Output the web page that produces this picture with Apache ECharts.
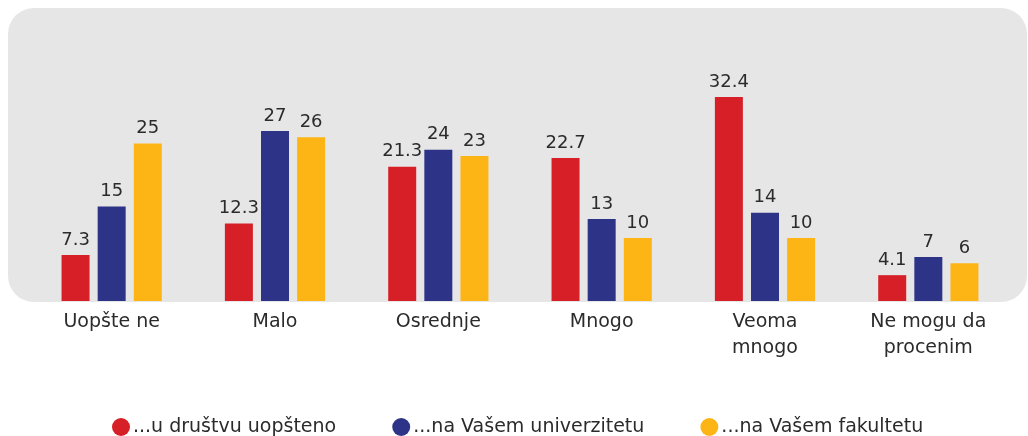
<!DOCTYPE html>
<html>
<head>
<meta charset="utf-8">
<script src="https://cdn.jsdelivr.net/npm/echarts@6/dist/echarts.min.js"></script>
<style>
html,body{margin:0;padding:0;background:#fff;}
#chart{width:1028px;height:436px;}
</style>
</head>
<body>
<div id="chart"></div>
<script>
var categories = ['Uopšte ne', 'Malo', 'Osrednje', 'Mnogo', 'Veoma\nmnogo', 'Ne mogu da\nprocenim'];
var seriesNames = ['...u društvu uopšteno', '...na Vašem univerzitetu', '...na Vašem fakultetu'];
var drustvo = [7.3, 12.3, 21.3, 22.7, 32.4, 4.1];
var univerzitet = [15, 27, 24, 13, 14, 7];
var fakultet = [25, 26, 23, 10, 10, 6];
var colors = ['#D71F27', '#2D3387', '#FDB515'];

var FONT = '"DejaVu Sans"';
var chart = echarts.init(document.getElementById('chart'));
function mk(name, data, color) {
  return {
    name: name,
    type: 'bar',
    data: data,
    barWidth: 28,
    barGap: '29%',
    itemStyle: { color: color },
    label: {
      show: true,
      position: 'top',
      distance: 6,
      color: '#2b2b2b',
      fontFamily: FONT,
      fontSize: 18
    }
  };
}
chart.setOption({
  animation: false,
  graphic: [{
    type: 'rect',
    z: -10,
    shape: { x: 8, y: 8, width: 1019, height: 294, r: 26 },
    style: { fill: '#E6E6E6' }
  }],
  grid: { left: 30, right: 18, top: 49, bottom: 135 },
  legend: {
    top: 416,
    left: 112,
    padding: 0,
    itemWidth: 18,
    itemHeight: 18,
    itemGap: 56,
    icon: 'circle',
    itemStyle: { borderWidth: 0 },
    textStyle: { color: '#2b2b2b', fontFamily: FONT, fontSize: 19, lineHeight: 22, padding: [0, 0, 0, -2] },
    data: seriesNames
  },
  xAxis: {
    type: 'category',
    data: categories,
    axisLine: { show: false },
    axisTick: { show: false },
    axisLabel: { color: '#2b2b2b', fontFamily: FONT, fontSize: 19, lineHeight: 26, margin: 8, interval: 0 }
  },
  yAxis: { type: 'value', min: 0, max: 40, show: false, splitLine: { show: false } },
  series: [
    mk(seriesNames[0], drustvo, colors[0]),
    mk(seriesNames[1], univerzitet, colors[1]),
    mk(seriesNames[2], fakultet, colors[2])
  ]
});
</script>
</body>
</html>
